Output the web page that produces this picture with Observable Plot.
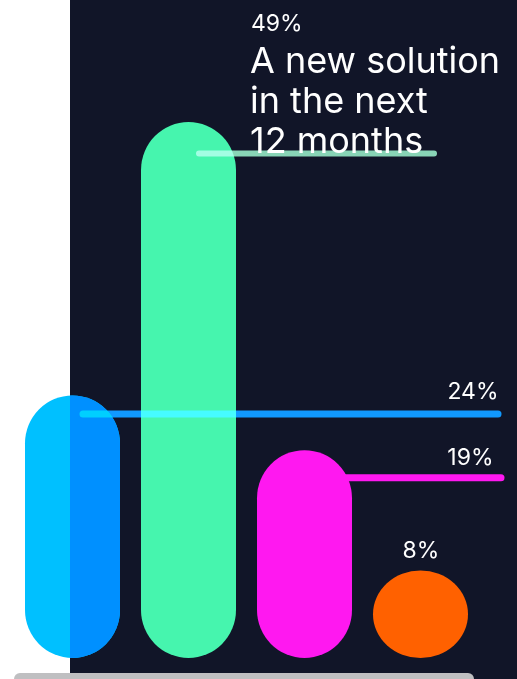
<!DOCTYPE html>
<html>
<head>
<meta charset="utf-8">
<script src="https://cdn.jsdelivr.net/npm/d3@7"></script>
<script src="https://cdn.jsdelivr.net/npm/@observablehq/plot@0.6"></script>
<style>
  html, body { margin: 0; padding: 0; background: #ffffff; overflow: hidden; }
  #wrap { position: relative; width: 517px; height: 679px; }
  #scroll { position: absolute; left: 14px; top: 673px; width: 460px; height: 12px; border-radius: 6px; background: #bfbfc1; }
</style>
</head>
<body>
<div id="wrap"><div id="scroll"></div></div>
<script>
// Data
const categories = ["Current solution", "A new solution\nin the next\n12 months", "Option C", "Option D"];
const values = [24, 49, 19, 8];
const valueLabels = ["24%", "49%", "19%", "8%"];
const colors = ["#0090ff", "#46f5ae", "#ff18f0", "#ff6100"];
const offFrameColor = "#00c0ff";
const lineColors = ["#0090ff", "#80d0a8", "#ff18f0", "#ff6100"];

const data = categories.map((c, i) => ({category: c, value: values[i], label: valueLabels[i], color: colors[i], lineColor: lineColors[i]}));
const blue = [data[0]], green = [data[1]], magenta = [data[2]], orange = [data[3]];

const font = "Inter, 'DejaVu Sans', sans-serif";

const chart = Plot.plot({
  width: 517,
  height: 679,
  marginLeft: 70,
  marginRight: 0,
  marginTop: 0,
  marginBottom: 0,
  style: {background: "transparent", color: "white", fontFamily: font},
  x: {type: "band", domain: categories, range: [2, 491], padding: 0.184, axis: null},
  y: {domain: [0, 49], range: [658, 122], axis: null},
  marks: [
    Plot.frame({fill: "#111528", stroke: "none", insetLeft: -0.5, insetTop: -2, insetRight: -2, insetBottom: -2}),
    // magenta leader line, behind its bar
    Plot.ruleY(magenta, {y: "value", stroke: "lineColor", strokeWidth: 7, strokeLinecap: "round", insetLeft: 235, insetRight: 16, dy: 27}),
    // part of first bar outside the dark panel
    Plot.barY(blue, {x: "category", y: "value", fill: offFrameColor, rx: 48}),
    Plot.barY(data, {x: "category", y: "value", fill: "color", rx: 48, clip: true}),
    // leader lines drawn over the bars
    Plot.ruleY(blue, {y: "value", stroke: "lineColor", strokeWidth: 7, strokeLinecap: "round", insetLeft: 13, insetRight: 19, dy: 18, mixBlendMode: "screen"}),
    Plot.ruleY(green, {y: "value", stroke: "lineColor", strokeWidth: 6, strokeLinecap: "round", insetLeft: 129, insetRight: 83, dy: 31, mixBlendMode: "screen"}),
    // labels
    Plot.text(green, {x: "category", y: "value", text: "label", textAnchor: "start", lineAnchor: "bottom", dx: 62, dy: -92, fontSize: 23, fill: "white"}),
    Plot.text(green, {x: "category", y: "value", text: "category", textAnchor: "start", lineAnchor: "bottom", lineHeight: 1.1, dx: 61, dy: 30, fontSize: 36, fill: "white"}),
    Plot.text(blue, {y: "value", text: "label", frameAnchor: "right", textAnchor: "end", lineAnchor: "bottom", dx: -19, dy: 3, fontSize: 23, fill: "white"}),
    Plot.text(magenta, {y: "value", text: "label", frameAnchor: "right", textAnchor: "end", lineAnchor: "bottom", dx: -24, dy: 14, fontSize: 23, fill: "white"}),
    Plot.text(orange, {x: "category", y: "value", text: "label", lineAnchor: "bottom", dy: -13, fontSize: 23, fill: "white"})
  ]
});
document.getElementById("wrap").prepend(chart);
</script>
</body>
</html>
